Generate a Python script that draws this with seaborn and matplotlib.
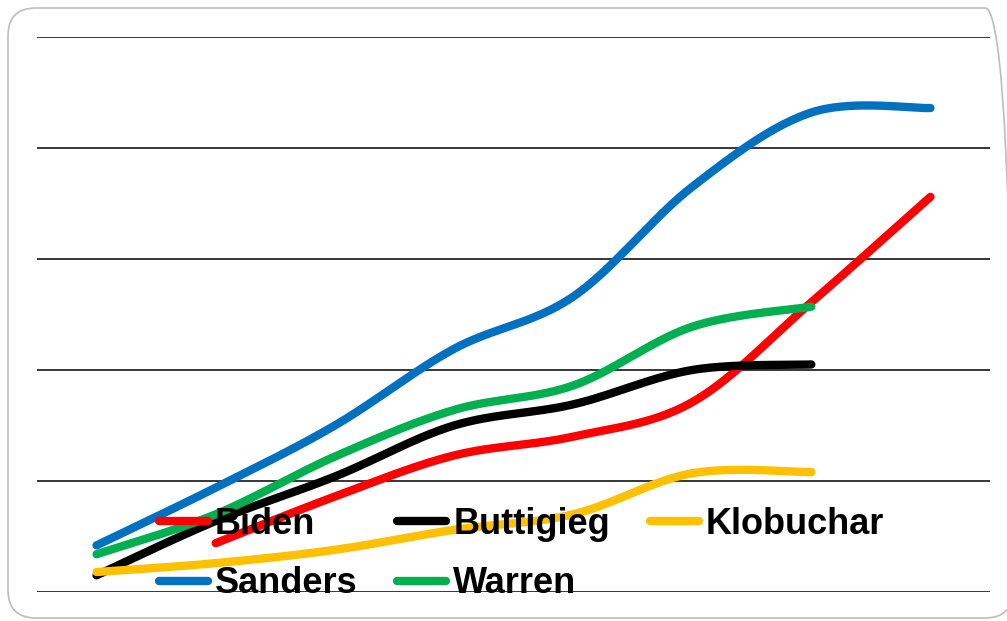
import numpy as np
import pandas as pd
import matplotlib
matplotlib.use("Agg")
import matplotlib.pyplot as plt
import seaborn as sns
from matplotlib.patches import FancyBboxPatch

# ---- data ----
periods = [0, 1, 2, 3, 4, 5, 6, 7]
biden = [np.nan, 4.4, 8.6, 12.3, 14.0, 17.1, 26.1, 35.6]
buttigieg = [1.5, 6.4, 10.4, 15.0, 16.9, 20.0, 20.5, np.nan]
klobuchar = [1.8, 2.6, 3.8, 5.6, 7.0, 10.7, 10.8, np.nan]
sanders = [4.2, 9.4, 15.0, 21.9, 26.6, 36.5, 43.2, 43.6]
warren = [3.4, 7.0, 12.2, 16.4, 18.6, 23.9, 25.7, np.nan]
names = ["Biden", "Buttigieg", "Klobuchar", "Sanders", "Warren"]
colors = ["#FF0000", "#000000", "#FFC000", "#0070C0", "#00B050"]
series = [biden, buttigieg, klobuchar, sanders, warren]


def smooth(xs, ys, n=40):
    P = np.column_stack([xs, ys]).astype(float)
    out = []
    for i in range(len(P) - 1):
        p0 = P[i - 1] if i > 0 else P[i]
        p1, p2 = P[i], P[i + 1]
        p3 = P[i + 2] if i + 2 < len(P) else P[i + 1]
        c1 = p1 + (p2 - p0) / 6
        c2 = p2 - (p3 - p1) / 6
        t = np.linspace(0, 1, n)[:, None]
        seg = (1 - t) ** 3 * p1 + 3 * (1 - t) ** 2 * t * c1 + 3 * (1 - t) * t ** 2 * c2 + t ** 3 * p2
        out.append(seg if i == 0 else seg[1:])
    return np.vstack(out)


frames = []
for name, vals in zip(names, series):
    x = np.array(periods, dtype=float)
    y = np.array(vals, dtype=float)
    m = ~np.isnan(y)
    c = smooth(x[m], y[m])
    frames.append(pd.DataFrame({"x": c[:, 0], "y": c[:, 1], "candidate": name,
                                "order": np.arange(len(c))}))
df = pd.concat(frames, ignore_index=True)

sns.set_style("white")
fig = plt.figure(figsize=(10.07, 6.21), dpi=100)
W, H = 1007, 621
ax = fig.add_axes([37 / W, (H - 592) / H, (990 - 37) / W, (592 - 37) / H])

sns.lineplot(data=df, x="x", y="y", hue="candidate", hue_order=names,
             palette=colors, sort=False, estimator=None, linewidth=6.0,
             solid_capstyle="round", legend=False, ax=ax)

ax.set_xlim(-0.5, 7.5)
ax.set_ylim(0, 50)
ax.set_yticks([0, 10, 20, 30, 40, 50])
ax.set_xticks([])
ax.yaxis.grid(True, color="black", linewidth=1.1)
ax.set_axisbelow(True)
ax.tick_params(left=False, labelleft=False, bottom=False, labelbottom=False)
for s in ax.spines.values():
    s.set_visible(False)
ax.set_xlabel("")
ax.set_ylabel("")

lines = ax.get_lines()[:5]
handles = dict(zip(names, lines))
order = ["Biden", "Sanders", "Buttigieg", "Warren", "Klobuchar"]
leg = ax.legend([handles[n] for n in order], order, ncol=3, frameon=False,
                loc="upper left", bbox_to_anchor=(159 / W, 1 - 507 / H),
                bbox_transform=fig.transFigure, borderpad=0, borderaxespad=0,
                handlelength=1.36, handletextpad=0.19, columnspacing=1.1,
                labelspacing=0.67,
                prop={"family": "Liberation Sans", "weight": "bold", "size": 26})
for t in leg.get_texts():
    t.set_color("black")
for lh in leg.get_lines():
    lh.set_linewidth(6.0)
    lh.set_solid_capstyle("round")

border = FancyBboxPatch((8, 3), 1005, 610, boxstyle="round,pad=0,rounding_size=28",
                        transform=None, facecolor="none", edgecolor="#bdbdbd",
                        linewidth=1.2, figure=fig)
fig.patches.append(border)

fig.savefig("out.png", dpi=100, facecolor="white")
